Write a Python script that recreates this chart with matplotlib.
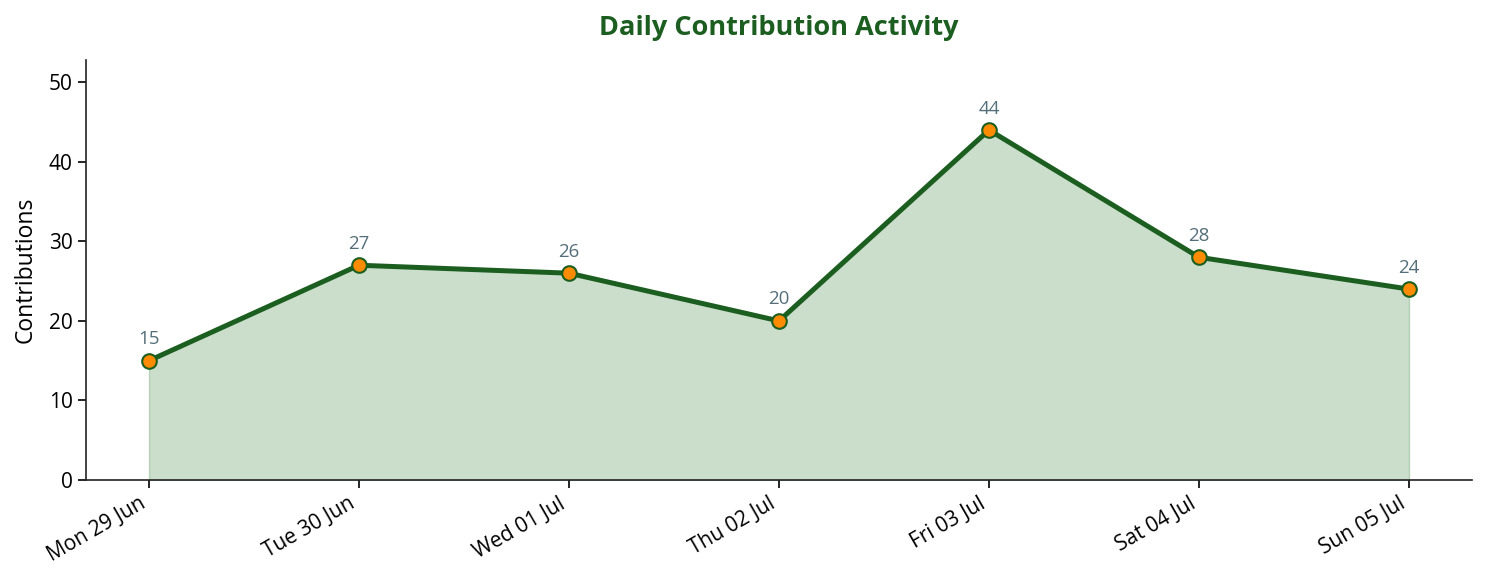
import matplotlib
matplotlib.use("Agg")
import matplotlib.pyplot as plt
import numpy as np

days = ['Mon 29 Jun', 'Tue 30 Jun', 'Wed 01 Jul', 'Thu 02 Jul',
        'Fri 03 Jul', 'Sat 04 Jul', 'Sun 05 Jul']
counts = [15, 27, 26, 20, 44, 28, 24]

plt.rcParams['font.family'] = ['Open Sans', 'DejaVu Sans']

fig = plt.figure(figsize=(14.86, 5.83), dpi=100)
ax = fig.add_axes([86/1486, 1-480/583, (1472-86)/1486, (480-60)/583])

x = np.arange(len(days))
ax.fill_between(x, counts, color='#2e7d32', alpha=0.25)
ax.plot(x, counts, color='#1b5e20', lw=3.6, marker='o', markersize=10.5,
        markerfacecolor='#ff8c00', markeredgecolor='#1b5e20', markeredgewidth=1.5)

for xi, c in zip(x, counts):
    ax.annotate(str(c), (xi, c), xytext=(0, 9), textcoords='offset points',
                ha='center', va='bottom', fontsize=13.5, color='#546e7a')

ax.set_xlim(-0.3, len(days) - 0.7)
ax.set_ylim(0, max(counts) * 1.2)
ax.set_xticks(x)
ax.set_xticklabels(days, rotation=30, ha='right', fontsize=15)
ax.tick_params(axis='y', labelsize=15)
ax.tick_params(length=6, width=1.2)
ax.set_ylabel('Contributions', fontsize=16.5, labelpad=8)
ax.set_title('Daily Contribution Activity', fontsize=19.5, fontweight='bold',
             color='#1b5e20', pad=18)
ax.spines['top'].set_visible(False)
ax.spines['right'].set_visible(False)
for s in ('left', 'bottom'):
    ax.spines[s].set_linewidth(1.2)
    ax.spines[s].set_color('#222222')

fig.savefig('out.png', dpi=100)
